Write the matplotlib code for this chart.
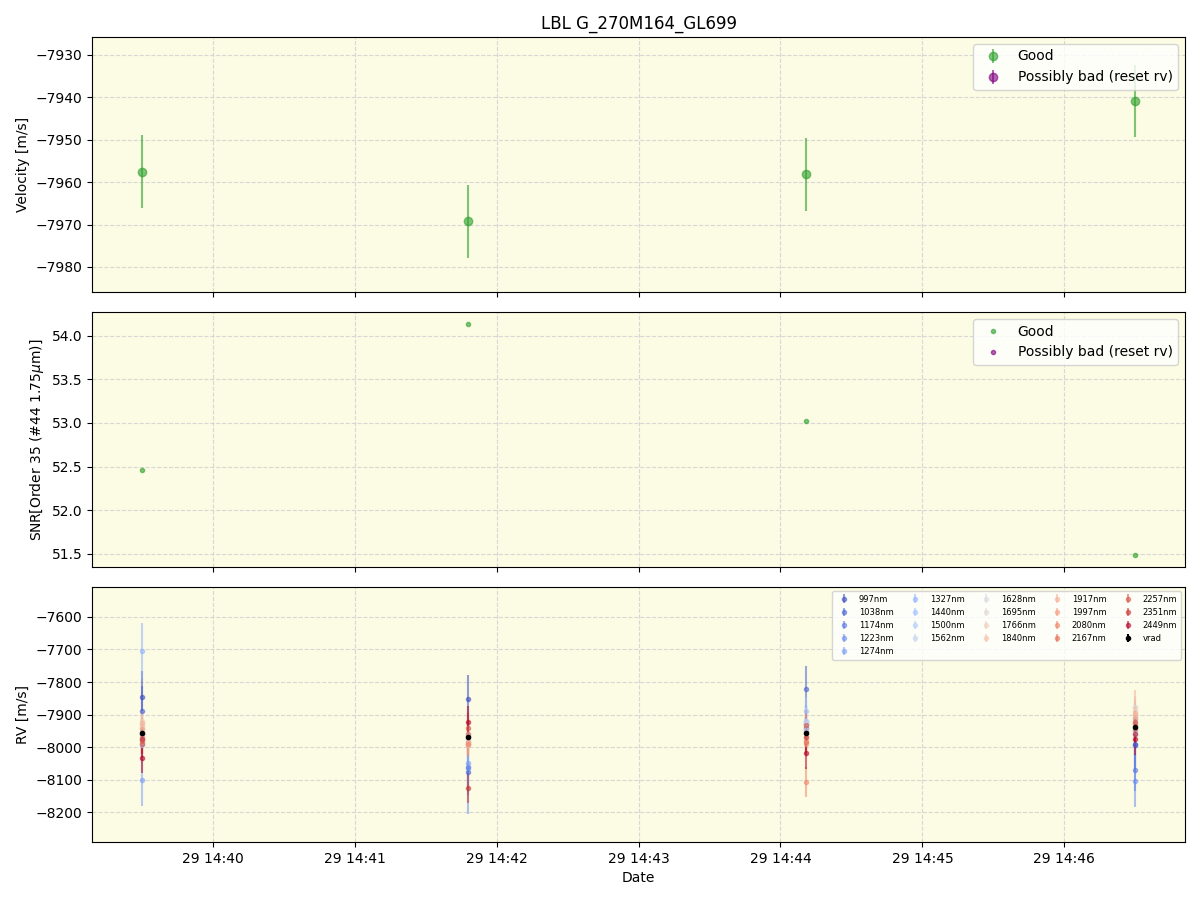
import numpy as np
import matplotlib
matplotlib.use("Agg")
import matplotlib.pyplot as plt
import matplotlib.dates as mdates
import pandas as pd

# ---- data ----
times = pd.to_datetime(["2023-06-29 14:39:30", "2023-06-29 14:41:48",
                        "2023-06-29 14:44:11", "2023-06-29 14:46:30"])
vrad = [-7957.6, -7969.2, -7958.1, -7940.8]
vrad_err = [8.6, 8.6, 8.6, 8.5]
snr = [52.46, 54.14, 53.02, 51.48]

wavelengths = ["997nm", "1038nm", "1174nm", "1223nm", "1274nm", "1327nm", "1440nm",
               "1500nm", "1562nm", "1628nm", "1695nm", "1766nm", "1840nm", "1917nm",
               "1997nm", "2080nm", "2167nm", "2257nm", "2351nm", "2449nm"]
rv_ep1 = [-7845, -7888, -7960, -7975, -8101, -7705, -7990, -7995, -7985, -7940,
          -7930, -7920, -7935, -7925, -7945, -7970, -7980, -7990, -7975, -8034]
rv_ep2 = [-7852, -8077, -8060, -8065, -8050, -7990, -7975, -7960, -7965, -7980,
          -7970, -7985, -7990, -7995, -7985, -7990, -7960, -7940, -8126, -7923]
rv_ep3 = [-7940, -7821, -7950, -7930, -7925, -7920, -7890, -7925, -7920, -7930,
          -7945, -7960, -7975, -7980, -7990, -8108, -7985, -7932, -7970, -8018]
rv_ep4 = [-7994, -7990, -8071, -8105, -7960, -7950, -7914, -7930, -7900, -7877,
          -7890, -7880, -7900, -7895, -7910, -7930, -7945, -7923, -7960, -7975]
err_ep1 = [80, 75, 60, 55, 80, 85, 50, 45, 40, 35, 35, 30, 30, 30, 35, 40, 40, 45, 45, 45]
err_ep2 = [75, 70, 60, 140, 70, 60, 50, 45, 40, 35, 35, 30, 30, 30, 35, 40, 40, 45, 45, 50]
err_ep3 = [70, 70, 60, 55, 55, 50, 45, 40, 40, 35, 35, 30, 30, 30, 35, 46, 40, 45, 45, 50]
err_ep4 = [75, 70, 65, 80, 60, 55, 50, 45, 40, 35, 35, 30, 30, 70, 35, 40, 40, 45, 45, 50]
rv_vrad = [-7957, -7969, -7957, -7938]
rv_vrad_err = [8, 8, 8, 8]

bg = "#fcfbe3"

fig, axes = plt.subplots(3, 1, figsize=(12, 9), dpi=100, sharex=True)
fig.subplots_adjust(left=0.0767, right=0.9875, top=0.9589, bottom=0.0644, hspace=0.0784)
for ax in axes:
    ax.set_facecolor(bg)
    ax.grid(True, linestyle="--", color="lightgray", alpha=0.9)
    ax.set_axisbelow(True)

# top
ax = axes[0]
ax.errorbar(times, vrad, yerr=vrad_err, fmt="o", color="tab:green", alpha=0.6, label="Good")
ax.errorbar([], [], yerr=[], fmt="o", color="purple", alpha=0.6, label="Possibly bad (reset rv)")
ax.set_ylim(-7985.9, -7925.8)
ax.set_ylabel("Velocity [m/s]")
ax.set_title("LBL G_270M164_GL699")
ax.legend(loc="upper right")

# middle
ax = axes[1]
ax.plot(times, snr, "o", color="tab:green", alpha=0.6, markersize=3, label="Good")
ax.plot([], [], "o", color="purple", alpha=0.6, markersize=3, label="Possibly bad (reset rv)")
ax.set_ylabel("SNR[Order 35 (#44 1.75$\\mu$m)]")
ax.legend(loc="upper right")

# bottom
ax = axes[2]
cmap = plt.get_cmap("coolwarm")
rvs = np.array([rv_ep1, rv_ep2, rv_ep3, rv_ep4]).T
errs = np.array([err_ep1, err_ep2, err_ep3, err_ep4]).T
n = len(wavelengths)
for i, wl in enumerate(wavelengths):
    ax.errorbar(times, rvs[i], yerr=errs[i], fmt="o", color=cmap(i / (n - 1)),
                alpha=0.55, markersize=3, label=wl)
ax.errorbar(times, rv_vrad, yerr=rv_vrad_err, fmt="o", color="black",
            markersize=3, label="vrad")
ax.set_ylim(-8292, -7508)
ax.set_ylabel("RV [m/s]")
ax.set_xlabel("Date")
ax.legend(loc="upper right", ncol=5, fontsize=6, columnspacing=1.55)

ax.xaxis.set_major_locator(mdates.MinuteLocator())
ax.xaxis.set_major_formatter(mdates.DateFormatter("%d %H:%M"))

fig.savefig("out.png", dpi=100)
